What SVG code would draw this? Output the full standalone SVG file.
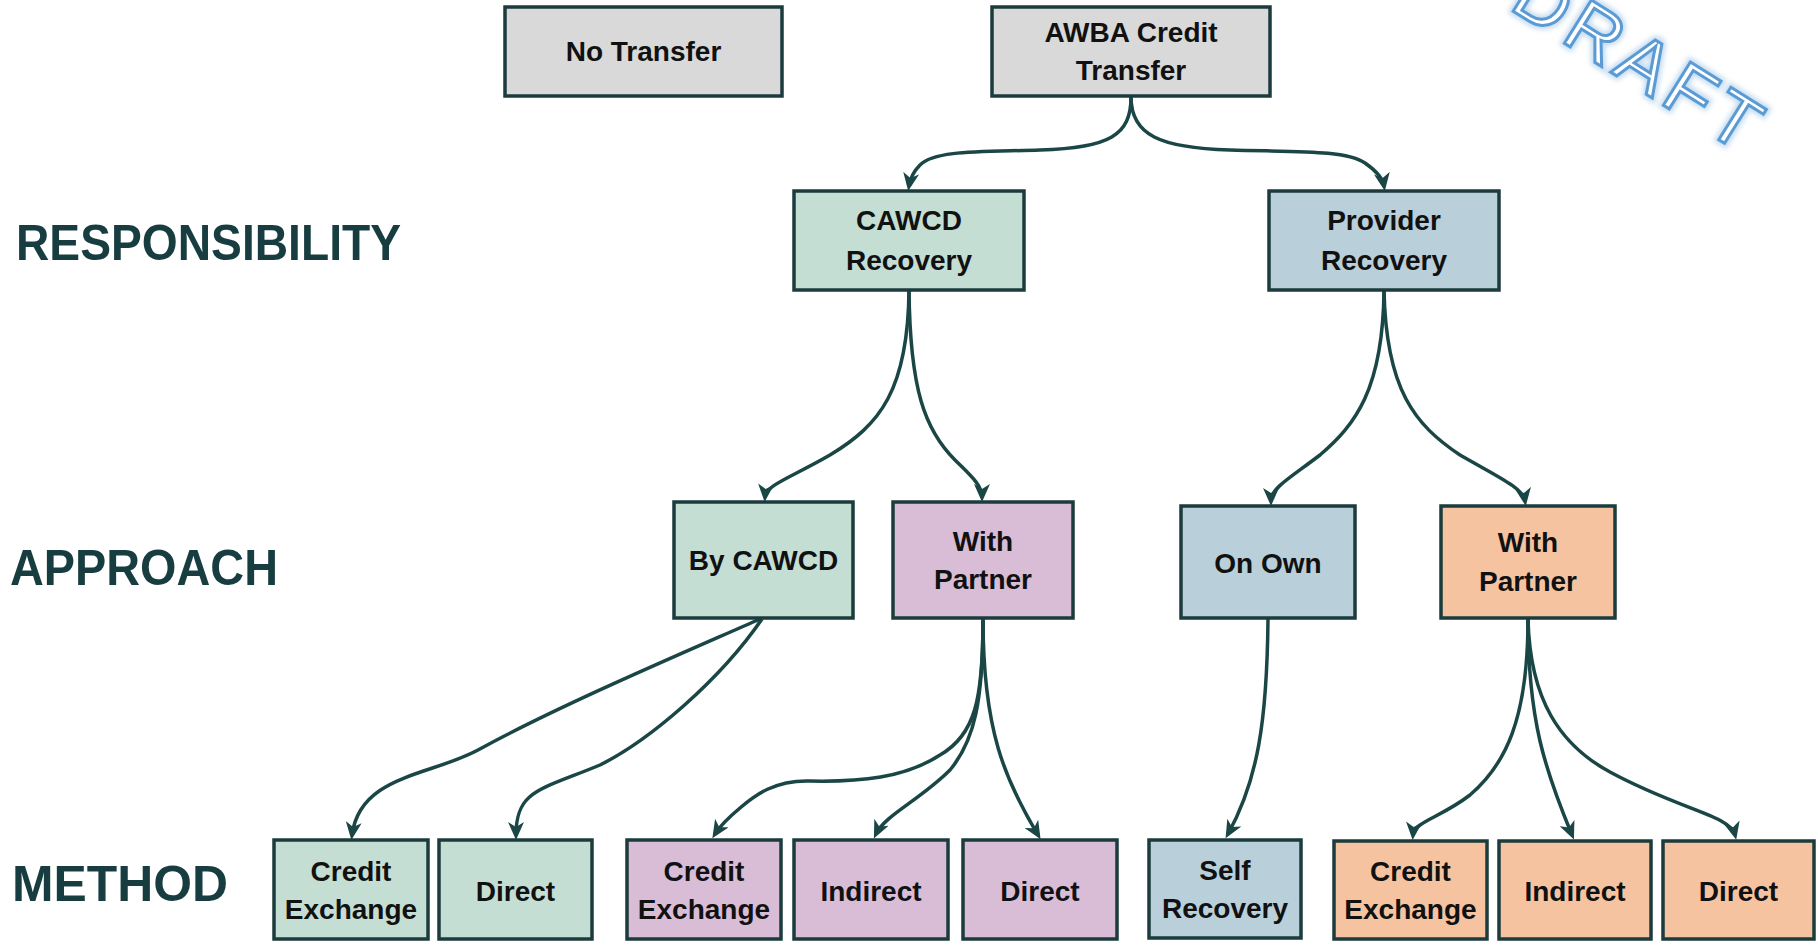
<svg xmlns="http://www.w3.org/2000/svg" width="1818" height="948" viewBox="0 0 1818 948">
  <defs>
    <marker id="arrow" markerUnits="userSpaceOnUse" markerWidth="18" markerHeight="16" viewBox="0 0 18 16" refX="13" refY="8" orient="auto">
      <path d="M0,0 L18,8 L0,16 L5,8 z" fill="#1B4646"/>
    </marker>
    <filter id="glow" x="-20%" y="-20%" width="140%" height="140%">
      <feGaussianBlur stdDeviation="2.5"/>
    </filter>
    <style>
      .box { stroke: #1B3B3D; stroke-width: 3.5; }
      .gray { fill: #D9D9D9; }
      .green { fill: #C5DED4; }
      .blue { fill: #B9CFD9; }
      .purple { fill: #D9BDD6; }
      .orange { fill: #F6C3A0; }
      .t { font-family: "Liberation Sans", Arial, sans-serif; font-weight: bold; font-size: 28px; fill: #111; text-anchor: middle; }
      .lbl { font-family: "Liberation Sans", Arial, sans-serif; font-weight: bold; font-size: 50px; fill: #173D40; }
      .conn path { fill: none; stroke: #1B4646; stroke-width: 3.5; marker-end: url(#arrow); }
      .draft { font-family: "Liberation Sans", Arial, sans-serif; font-size: 74px; letter-spacing: 7px; }
    </style>
  </defs>
  <rect width="1818" height="948" fill="#FFFFFF"/>

  <g id="watermark">
    <text class="draft" transform="translate(1508,8) rotate(32)" fill="none" stroke="#9DC3E6" stroke-width="8" opacity="0.6" filter="url(#glow)">DRAFT</text>
    <text class="draft" transform="translate(1508,8) rotate(32)" fill="#FFFFFF" stroke="#5B9BD5" stroke-width="3">DRAFT</text>
  </g>

  <g id="labels">
    <text class="lbl" x="16" y="260" textLength="385" lengthAdjust="spacingAndGlyphs">RESPONSIBILITY</text>
    <text class="lbl" x="10" y="585" textLength="268" lengthAdjust="spacingAndGlyphs">APPROACH</text>
    <text class="lbl" x="12" y="901" textLength="216" lengthAdjust="spacingAndGlyphs">METHOD</text>
  </g>

  <g id="connectors" class="conn">
    <path d="M1131,97 C1131,135 1110,148 1040,150 C980,152 935,150 920,165 C912,173 910,180 909,186"/>
    <path d="M1131,97 C1131,135 1160,148 1230,150 C1300,152 1345,150 1365,163 C1378,172 1383,180 1384,186"/>
    <path d="M909,290 C908,390 880,425 830,455 C790,478 766,485 765,497"/>
    <path d="M909,290 C910,390 925,430 955,460 C970,475 982,485 982,497"/>
    <path d="M1384,290 C1383,390 1355,425 1320,455 C1290,478 1271,488 1271,501"/>
    <path d="M1384,290 C1386,390 1415,425 1460,455 C1500,478 1523,488 1525,501"/>
    <path d="M760,619 C690,650 560,705 478,750 C430,776 360,775 352,835"/>
    <path d="M762,619 C720,680 650,740 600,765 C540,790 516,790 516,835"/>
    <path d="M983,619 C983,700 975,735 940,755 C905,778 860,782 810,781 C775,780 755,795 740,808 C728,818 720,826 715,834"/>
    <path d="M983,619 C983,700 975,740 950,770 C920,800 885,815 876,834"/>
    <path d="M983,619 C983,730 1005,780 1038,835"/>
    <path d="M1268,619 C1267,720 1258,780 1228,834"/>
    <path d="M1528,619 C1528,720 1505,765 1470,795 C1440,818 1414,822 1413,835"/>
    <path d="M1528,619 C1528,720 1545,770 1572,835"/>
    <path d="M1528,619 C1530,700 1560,745 1610,772 C1680,810 1730,815 1735,835"/>
  </g>

  <g id="no-transfer">
    <rect class="box gray" x="505" y="7" width="277" height="89"/>
    <text class="t" x="643.5" y="61">No Transfer</text>
  </g>
  <g id="awba-credit-transfer">
    <rect class="box gray" x="992" y="7" width="278" height="89"/>
    <text class="t" x="1131" y="42">AWBA Credit</text>
    <text class="t" x="1131" y="80">Transfer</text>
  </g>
  <g id="cawcd-recovery">
    <rect class="box green" x="794" y="191" width="230" height="99"/>
    <text class="t" x="909" y="230">CAWCD</text>
    <text class="t" x="909" y="270">Recovery</text>
  </g>
  <g id="provider-recovery">
    <rect class="box blue" x="1269" y="191" width="230" height="99"/>
    <text class="t" x="1384" y="230">Provider</text>
    <text class="t" x="1384" y="270">Recovery</text>
  </g>
  <g id="by-cawcd">
    <rect class="box green" x="674" y="502" width="179" height="116"/>
    <text class="t" x="763.5" y="570">By CAWCD</text>
  </g>
  <g id="with-partner-cawcd">
    <rect class="box purple" x="893" y="502" width="180" height="116"/>
    <text class="t" x="983" y="551">With</text>
    <text class="t" x="983" y="589">Partner</text>
  </g>
  <g id="on-own">
    <rect class="box blue" x="1181" y="506" width="174" height="112"/>
    <text class="t" x="1268" y="573">On Own</text>
  </g>
  <g id="with-partner-provider">
    <rect class="box orange" x="1441" y="506" width="174" height="112"/>
    <text class="t" x="1528" y="552">With</text>
    <text class="t" x="1528" y="591">Partner</text>
  </g>

  <g id="credit-exchange-cawcd">
    <rect class="box green" x="274" y="840" width="154" height="99"/>
    <text class="t" x="351" y="881">Credit</text>
    <text class="t" x="351" y="919">Exchange</text>
  </g>
  <g id="direct-cawcd">
    <rect class="box green" x="439" y="840" width="153" height="99"/>
    <text class="t" x="515.5" y="901">Direct</text>
  </g>
  <g id="credit-exchange-partner">
    <rect class="box purple" x="627" y="840" width="154" height="99"/>
    <text class="t" x="704" y="881">Credit</text>
    <text class="t" x="704" y="919">Exchange</text>
  </g>
  <g id="indirect-partner">
    <rect class="box purple" x="794" y="840" width="154" height="99"/>
    <text class="t" x="871" y="901">Indirect</text>
  </g>
  <g id="direct-partner">
    <rect class="box purple" x="963" y="840" width="154" height="99"/>
    <text class="t" x="1040" y="901">Direct</text>
  </g>
  <g id="self-recovery">
    <rect class="box blue" x="1149" y="840" width="152" height="98"/>
    <text class="t" x="1225" y="880">Self</text>
    <text class="t" x="1225" y="918">Recovery</text>
  </g>
  <g id="credit-exchange-provider">
    <rect class="box orange" x="1334" y="841" width="153" height="98"/>
    <text class="t" x="1410.5" y="881">Credit</text>
    <text class="t" x="1410.5" y="919">Exchange</text>
  </g>
  <g id="indirect-provider">
    <rect class="box orange" x="1499" y="841" width="152" height="98"/>
    <text class="t" x="1575" y="901">Indirect</text>
  </g>
  <g id="direct-provider">
    <rect class="box orange" x="1663" y="841" width="151" height="98"/>
    <text class="t" x="1738.5" y="901">Direct</text>
  </g>
</svg>
